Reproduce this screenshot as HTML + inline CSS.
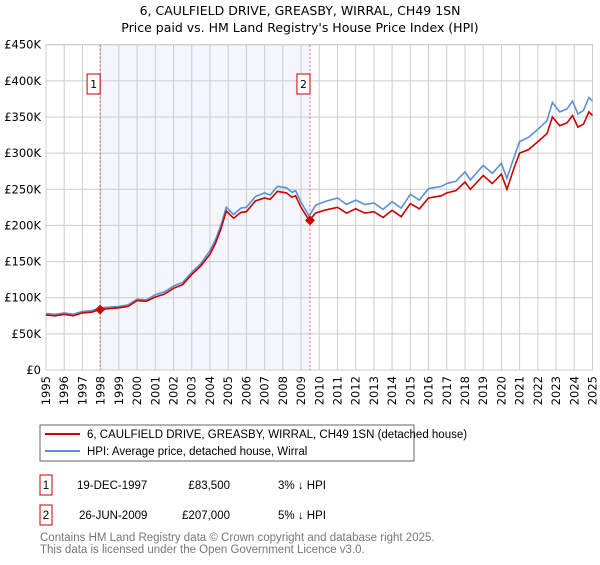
<!DOCTYPE html>
<html><head><meta charset="utf-8"><style>
body{margin:0;background:#fff;font-family:"Liberation Sans","DejaVu Sans",sans-serif}
svg text{font-family:"DejaVu Sans","Liberation Sans",sans-serif}
svg text.ls{font-family:"Liberation Sans","DejaVu Sans",sans-serif}
</style></head><body>
<svg width="600" height="560" viewBox="0 0 600 560">
<text x="300" y="15" text-anchor="middle" font-size="12.5">6, CAULFIELD DRIVE, GREASBY, WIRRAL, CH49 1SN</text>
<text x="300" y="32" text-anchor="middle" font-size="12.5">Price paid vs. HM Land Registry's House Price Index (HPI)</text>
<g id="plot"></g>
<rect x="40" y="425" width="374" height="36" fill="#fff" stroke="#666"/>
<line x1="45" y1="434" x2="80" y2="434" stroke="#cc0000" stroke-width="2"/>
<text class="ls" x="87" y="438" font-size="11.5">6, CAULFIELD DRIVE, GREASBY, WIRRAL, CH49 1SN (detached house)</text>
<line x1="45" y1="451" x2="80" y2="451" stroke="#5b8fd6" stroke-width="2"/>
<text class="ls" x="87" y="455" font-size="11.5">HPI: Average price, detached house, Wirral</text>
<rect x="40" y="475" width="12" height="20" fill="#fff" stroke="#cc0000"/>
<text class="ls" x="46" y="489" text-anchor="middle" font-size="11.5">1</text>
<text class="ls" x="77" y="489" font-size="11.5">19-DEC-1997</text>
<text class="ls" x="230" y="489" text-anchor="end" font-size="11.5">£83,500</text>
<text class="ls" x="278" y="489" font-size="11.5">3% ↓ HPI</text>
<rect x="40" y="505" width="12" height="20" fill="#fff" stroke="#cc0000"/>
<text class="ls" x="46" y="519" text-anchor="middle" font-size="11.5">2</text>
<text class="ls" x="79" y="519" font-size="11.5">26-JUN-2009</text>
<text class="ls" x="230" y="519" text-anchor="end" font-size="11.5">£207,000</text>
<text class="ls" x="278" y="519" font-size="11.5">5% ↓ HPI</text>
<text class="ls" x="40" y="541" font-size="11.5" fill="#777">Contains HM Land Registry data © Crown copyright and database right 2025.</text>
<text class="ls" x="40" y="553" font-size="11.5" fill="#777">This data is licensed under the Open Government Licence v3.0.</text>
</svg>
<script>
const years=[1995,1995.5,1996,1996.5,1997,1997.5,1998,1999,1999.5,2000,2000.5,2001,2001.5,2002,2002.5,2003,2003.5,2004,2004.3,2004.6,2004.9,2005.3,2005.7,2006,2006.5,2007,2007.3,2007.7,2008.2,2008.5,2008.7,2009,2009.45,2009.8,2010.3,2011,2011.5,2012,2012.5,2013,2013.5,2014,2014.5,2015,2015.5,2016,2016.7,2017,2017.5,2018,2018.3,2019,2019.5,2020,2020.3,2020.7,2021,2021.5,2022,2022.5,2022.8,2023.2,2023.6,2023.9,2024.2,2024.5,2024.8,2025];
const hpiValues=[78,77,79,77,81,82,86,88,90,98,97,104,108,116,121,135,147,165,180,200,225,215,224,225,240,245,242,254,252,246,248,232,213,228,233,238,229,235,229,231,222,233,224,243,235,251,254,258,261,274,263,283,272,286,265,295,316,322,333,345,370,357,361,372,354,359,377,372];
const priceValues=[76,75,77,75,79,80,84,86,88,96,95,101,105,113,118,132,144,160,175,195,220,210,218,219,234,238,236,247,245,239,241,225,207,217,221,225,217,223,217,219,211,221,212,230,223,238,241,245,248,260,250,269,258,271,250,280,300,305,316,327,350,338,342,352,336,340,357,352];
const sales=[{y:1997.97,v:83.5,label:"1"},{y:2009.49,v:207,label:"2"}];
const yTicks=[0,50,100,150,200,250,300,350,400,450];
const xTicks=[];for(let y=1995;y<=2025;y++)xTicks.push(y);
const NS="http://www.w3.org/2000/svg";
const X0=46,X1=592.5,Y0=370,Y1=44.7;
const sx=y=>X0+(y-1995)/30*(X1-X0);
const sy=v=>Y0-v/450*(Y0-Y1);
const g=document.getElementById('plot');
function mk(t,a){const e=document.createElementNS(NS,t);for(const k in a)e.setAttribute(k,a[k]);g.appendChild(e);return e;}
const sh=mk('rect',{x:sx(sales[0].y),y:Y1,width:sx(sales[1].y)-sx(sales[0].y),height:Y0-Y1,fill:'#eef2fc',opacity:0.7});


yTicks.forEach(t=>{
 const l=mk('line',{x1:X0,x2:X1,y1:sy(t),y2:sy(t),stroke:'#ccc'});
 
 
 const tx=mk('text',{x:X0-5,y:sy(t)+4,'text-anchor':'end','font-size':11.5});tx.textContent=t===0?'£0':'£'+t+'K';
 
 
});
xTicks.forEach(t=>{
 const l=mk('line',{x1:sx(t),x2:sx(t),y1:Y1,y2:Y0,stroke:'#ccc'});
 
 
 const tx=mk('text',{x:0,y:0,'font-size':11.5,'text-anchor':'end',transform:`translate(${sx(t)+4},${Y0+6}) rotate(-90)`});tx.textContent=t;
 
 
});
const fr=mk('rect',{x:X0,y:Y1,width:X1-X0,height:Y0-Y1,fill:'none',stroke:'#ccc'});


sales.forEach(s=>{
 const l=mk('line',{x1:sx(s.y),x2:sx(s.y),y1:Y1,y2:Y0,stroke:'#e06060','stroke-dasharray':'2,2'});
 
 
 const b=mk('rect',{x:sx(s.y)-13,y:74,width:13,height:20,fill:'#fff',stroke:'#cc0000'});
 
 
 const t=mk('text',{x:sx(s.y)-6.5,y:88,'text-anchor':'middle','font-size':11});t.textContent=s.label;
 
 
});
const path=vals=>vals.map((v,i)=>(i?'L':'M')+sx(years[i]).toFixed(1)+','+sy(v).toFixed(1)).join('');
const hp=mk('path',{d:path(hpiValues),fill:'none',stroke:'#5b8fd6','stroke-width':1.6});


const pp=mk('path',{d:path(priceValues),fill:'none',stroke:'#cc0000','stroke-width':1.6});


sales.forEach(s=>{
 const x=sx(s.y),y=sy(s.v);
 const d=mk('path',{d:`M${x-5},${y}L${x},${y-5}L${x+5},${y}L${x},${y+5}Z`,fill:'#cc0000'});
 
 
});
</script>
</body></html>
